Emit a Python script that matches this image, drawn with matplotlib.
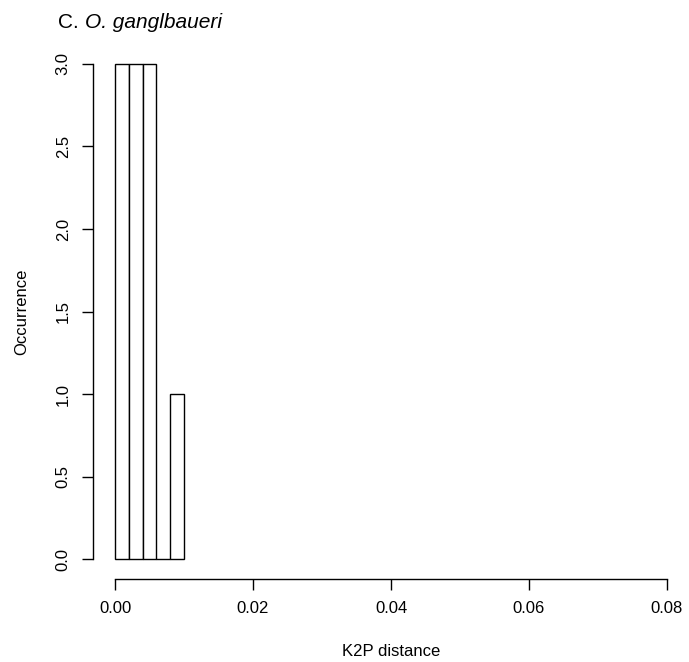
import matplotlib
matplotlib.use("Agg")
import matplotlib.pyplot as plt
from matplotlib.transforms import offset_copy

# histogram of K2P distances (bin width 0.002)
bin_left = [0.000, 0.002, 0.004, 0.006, 0.008]
counts = [3, 3, 3, 0, 1]
bin_width = 0.002

x_ticks = [0.00, 0.02, 0.04, 0.06, 0.08]
x_labels = ["0.00", "0.02", "0.04", "0.06", "0.08"]
y_ticks = [0.0, 0.5, 1.0, 1.5, 2.0, 2.5, 3.0]
y_labels = ["0.0", "0.5", "1.0", "1.5", "2.0", "2.5", "3.0"]

plt.rcParams["font.family"] = ["Liberation Sans", "DejaVu Sans"]

fig = plt.figure(figsize=(6.89, 6.62), dpi=100)
ax = fig.add_axes([0.135, 0.1254, 0.865, 0.808])

ax.bar(bin_left, counts, width=bin_width, align="edge",
       facecolor="white", edgecolor="black", linewidth=1.0)

# R-like range: 4% padding beyond data range
ax.set_xlim(-0.0032, 0.0832)
ax.set_ylim(-0.12, 3.12)

for s in ["top", "right"]:
    ax.spines[s].set_visible(False)
ax.spines["left"].set_bounds(0, 3)
ax.spines["bottom"].set_bounds(0, 0.08)
ax.spines["left"].set_linewidth(1.0)
ax.spines["bottom"].set_linewidth(1.0)

ax.set_xticks(x_ticks)
ax.set_xticklabels(x_labels)
ax.set_yticks(y_ticks)
ax.set_yticklabels(y_labels, rotation=90, va="center")
ax.tick_params(axis="both", direction="out", length=8, width=1.0,
               labelsize=12, pad=8)

ax.set_xlabel("K2P distance", fontsize=12, labelpad=20)
ax.set_ylabel("Occurrence", fontsize=12, labelpad=19)

# title: "C. " upright followed by italic species name
t1 = fig.text(58 / 689, 1 - 28 / 662, "C.", fontsize=15,
              ha="left", va="baseline")
fig.canvas.draw()
w = t1.get_window_extent().width + 6
fig.text(58 / 689, 1 - 28 / 662, "O. ganglbaueri", fontsize=15,
         style="italic", ha="left", va="baseline",
         transform=offset_copy(fig.transFigure, fig=fig, x=w, y=0, units="dots"))

fig.savefig("out.png", dpi=100)
